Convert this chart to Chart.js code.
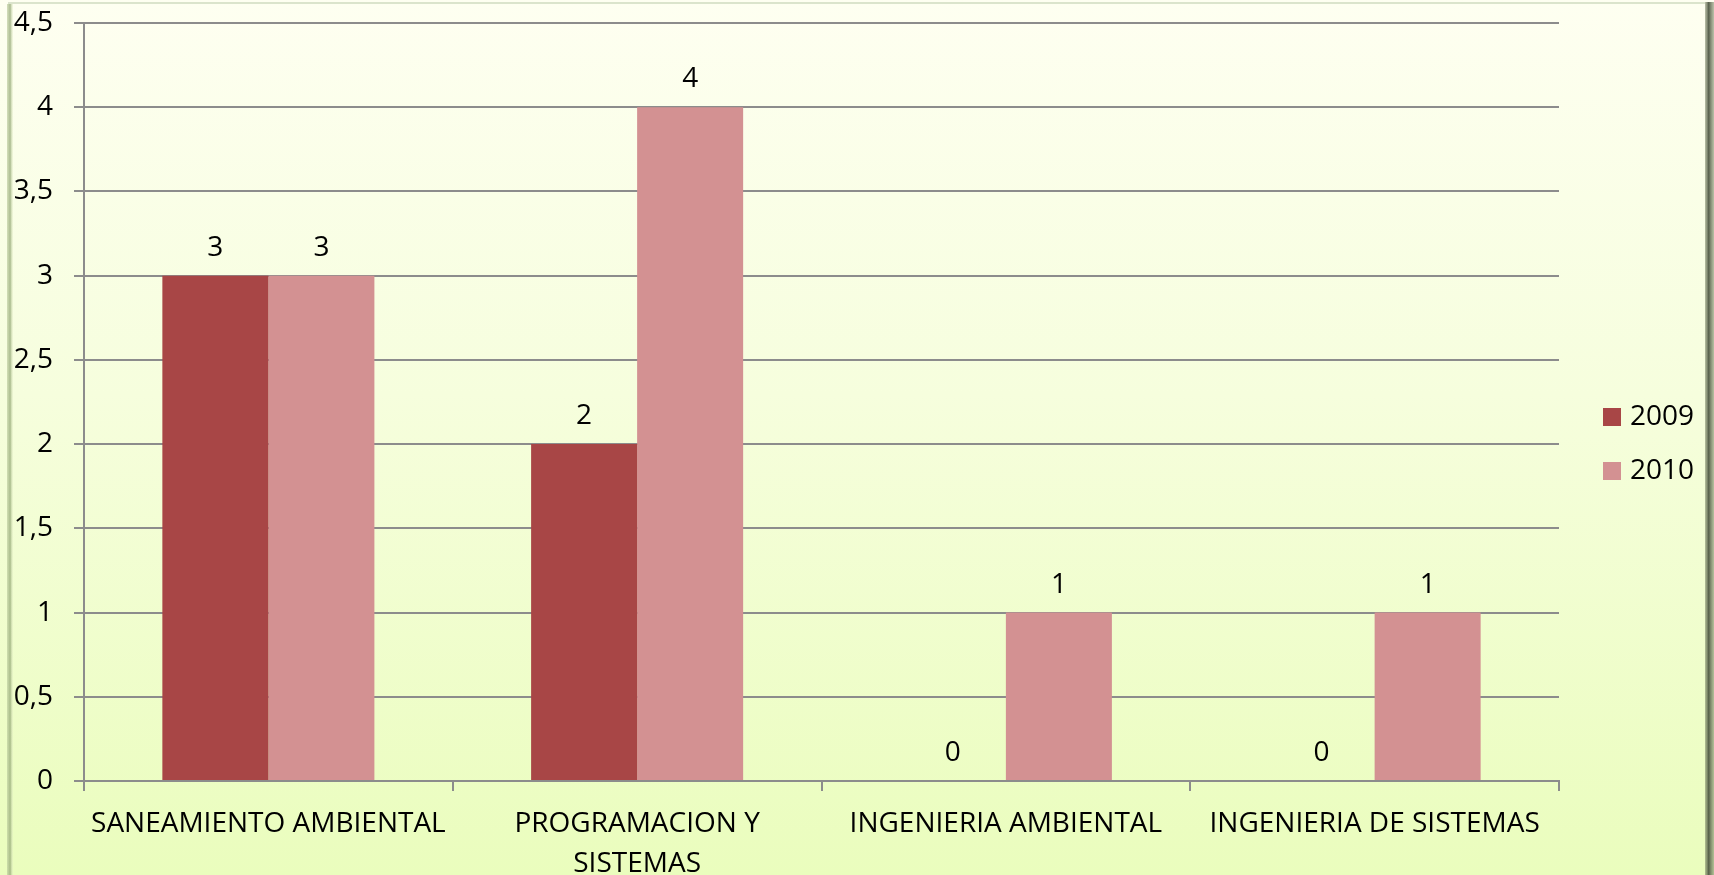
<!DOCTYPE html>
<html>
<head>
<meta charset="utf-8">
<script src="https://cdn.jsdelivr.net/npm/chart.js@4.4.0/dist/chart.umd.min.js"></script>
<style>
  html, body { margin: 0; padding: 0; width: 1714px; height: 875px; overflow: hidden; }
  #wrap { position: relative; width: 1714px; height: 875px;
    background: linear-gradient(to bottom, #FEFFF1 0%, #F6FEDD 45%, #EAFDBD 100%); }
  canvas { position: absolute; left: 0; top: 0; }
</style>
</head>
<body>
<div id="wrap"><canvas id="c" width="1714" height="875"></canvas></div>
<script>
const categories = ['SANEAMIENTO AMBIENTAL', ['PROGRAMACION Y', 'SISTEMAS'], 'INGENIERIA AMBIENTAL', 'INGENIERIA DE SISTEMAS'];
const seriesNames = ['2009', '2010'];
const values2009 = [3, 2, 0, 0];
const values2010 = [3, 4, 1, 1];
const yTicks = [0, 0.5, 1, 1.5, 2, 2.5, 3, 3.5, 4, 4.5];

const FONT = "'Open Sans', 'DejaVu Sans', sans-serif";

const frame = {
  id: 'frame',
  afterDraw(chart) {
    const ctx = chart.ctx, W = chart.width, H = chart.height;
    ctx.save();
    const g = ctx.createLinearGradient(W - 9, 0, W, 0);
    g.addColorStop(0, 'rgba(120,130,100,0.5)');
    g.addColorStop(0.4, 'rgba(70,80,60,0.9)');
    g.addColorStop(1, 'rgba(140,150,120,0.6)');
    ctx.fillStyle = g;
    ctx.fillRect(W - 9, 2, 9, H);
    const g2 = ctx.createLinearGradient(6, 0, 13, 0);
    g2.addColorStop(0, 'rgba(200,215,170,0.6)');
    g2.addColorStop(0.6, 'rgba(150,170,120,0.8)');
    g2.addColorStop(1, 'rgba(230,240,200,0.3)');
    ctx.fillStyle = g2;
    ctx.fillRect(7, 4, 6, H);
    ctx.fillStyle = 'rgba(215,225,200,0.9)';
    ctx.fillRect(8, 2, W - 17, 2);
    ctx.restore();
  }
};

// legend drawn to the right of the plot, from the datasets' own labels and colours
const sideLegend = {
  id: 'sideLegend',
  afterDraw(chart) {
    const ctx = chart.ctx;
    const area = chart.chartArea;
    const boxX = area.right + 44, textX = boxX + 27, firstY = 417, step = 54, box = 18;
    ctx.save();
    ctx.font = "28px " + FONT;
    ctx.textAlign = 'left';
    ctx.textBaseline = 'middle';
    chart.data.datasets.forEach((ds, i) => {
      const cy = firstY + i * step;
      ctx.fillStyle = ds.backgroundColor;
      ctx.fillRect(boxX, cy - box / 2, box, box);
      ctx.fillStyle = '#000';
      ctx.fillText(ds.label, textX, cy);
    });
    ctx.restore();
  }
};

const valueLabels = {
  id: 'valueLabels',
  afterDatasetsDraw(chart) {
    const ctx = chart.ctx;
    ctx.save();
    ctx.font = "28px " + FONT;
    ctx.fillStyle = '#000';
    ctx.textAlign = 'center';
    ctx.textBaseline = 'middle';
    chart.data.datasets.forEach((ds, i) => {
      const meta = chart.getDatasetMeta(i);
      meta.data.forEach((el, j) => {
        ctx.fillText(String(ds.data[j]), el.x, el.y - 28);
      });
    });
    ctx.restore();
  }
};

new Chart(document.getElementById('c'), {
  type: 'bar',
  data: {
    labels: categories,
    datasets: [
      { label: seriesNames[0], data: values2009, backgroundColor: '#A84646', borderWidth: 0 },
      { label: seriesNames[1], data: values2010, backgroundColor: '#D39192', borderWidth: 0 }
    ]
  },
  options: {
    responsive: false,
    animation: false,
    devicePixelRatio: 1,
    layout: { padding: { top: 23, right: 155, left: 0, bottom: 0 } },
    datasets: { bar: { barPercentage: 1.0, categoryPercentage: 0.575 } },
    plugins: {
      legend: { display: false },
      tooltip: { enabled: false }
    },
    scales: {
      x: {
        grid: { drawOnChartArea: false, drawTicks: true, tickLength: 10, color: '#8C8C8C', lineWidth: 2, offset: true },
        border: { display: true, color: '#8C8C8C', width: 2 },
        ticks: { color: '#000', font: { family: FONT, size: 28, lineHeight: 1.43 }, padding: 13, maxRotation: 0, autoSkip: false },
        afterFit(s) { s.height = 94; s.paddingLeft = 0; s.paddingRight = 0; }
      },
      y: {
        min: 0, max: 4.5,
        afterBuildTicks(s) { s.ticks = yTicks.map(v => ({ value: v })); },
        grid: { drawTicks: true, tickLength: 10, color: '#8C8C8C', lineWidth: 2 },
        border: { display: true, color: '#8C8C8C', width: 2 },
        ticks: { color: '#000', font: { family: FONT, size: 28 }, padding: 21,
          callback: v => String(v).replace('.', ',') },
        afterFit(s) { s.width = 84; s.paddingTop = 0; s.paddingBottom = 0; }
      }
    }
  },
  plugins: [valueLabels, sideLegend, frame]
});
</script>
</body>
</html>
